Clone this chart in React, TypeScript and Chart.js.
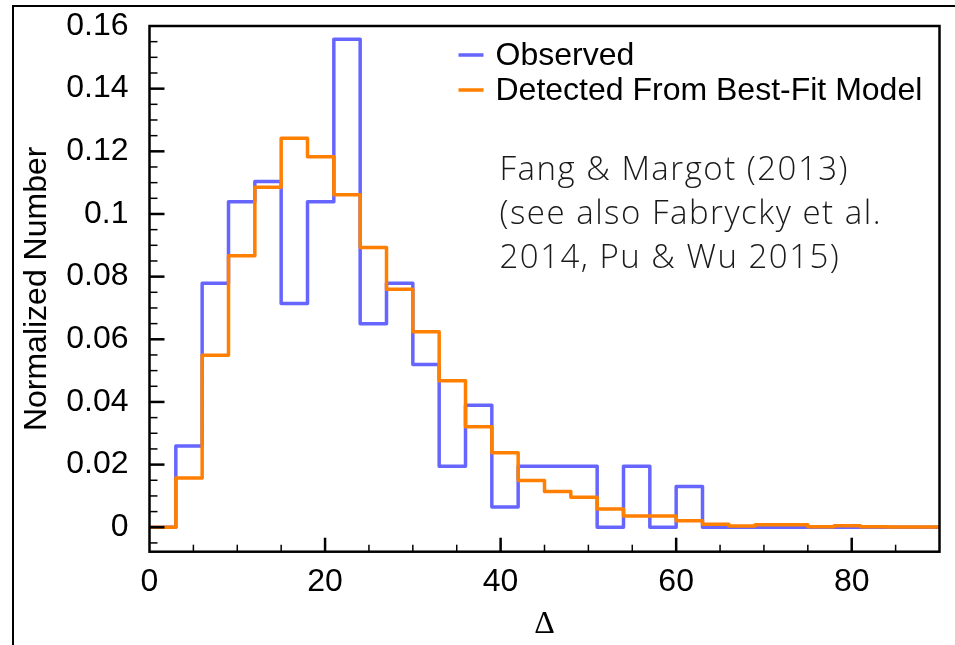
import React, { useEffect, useRef } from "react";
import { Chart, registerables } from "chart.js";

Chart.register(...registerables);

// Δ bin edges (width 3) from 0 to 90
const binEdges = [
  0, 3, 6, 9, 12, 15, 18, 21, 24, 27, 30, 33, 36, 39, 42, 45, 48, 51, 54, 57, 60,
  63, 66, 69, 72, 75, 78, 81, 84, 87, 90,
];

// Normalized counts per bin
const observed = [
  0, 0.02597, 0.07792, 0.1039, 0.1104, 0.07143, 0.1039, 0.1558, 0.06494, 0.07792,
  0.05195, 0.01948, 0.03896, 0.00649, 0.01948, 0.01948, 0.01948, 0, 0.01948, 0,
  0.01299, 0, 0, 0, 0, 0, 0, 0, 0, 0,
];

const detected = [
  0, 0.0157, 0.0549, 0.0867, 0.1085, 0.1242, 0.1183, 0.1061, 0.0893, 0.076,
  0.0624, 0.0468, 0.0321, 0.0238, 0.0149, 0.0114, 0.0096, 0.0058, 0.0036, 0.0036,
  0.0021, 0.001, 0.0004, 0.0008, 0.0008, 0.0002, 0.0005, 0.0002, 0.0001, 0.0001,
];

const seriesLabels = ["Observed", "Detected From Best-Fit Model"];
const seriesColors = ["#6666FF", "#FF7F00"];

const xTickValues = [0, 20, 40, 60, 80];
const yTickValues = [0, 0.02, 0.04, 0.06, 0.08, 0.1, 0.12, 0.14, 0.16];

const noteLines = [
  "Fang & Margot (2013)",
  "(see also Fabrycky et al.",
  "2014, Pu & Wu 2015)",
];

const SANS = "'Liberation Sans', Arial, Helvetica, sans-serif";

// Histogram outline as step points at bin edges (value of each bin starts at its left edge)
function stepPoints(values: number[]) {
  return binEdges.map((x, i) => ({ x, y: values[Math.min(i, values.length - 1)] }));
}

const decorPlugin = {
  id: "decor",
  afterDatasetsDraw(chart: any) {
    const { ctx, chartArea: a, scales } = chart;
    const xs = scales.x;
    const ys = scales.y;
    ctx.save();
    ctx.strokeStyle = "#000";
    ctx.lineCap = "butt";

    // y ticks (major every 0.02, minor every 0.005), pointing inward
    for (let k = -1; k <= 31; k++) {
      const v = k * 0.005;
      const py = ys.getPixelForValue(v);
      if (py > a.bottom - 1 || py < a.top + 1) continue;
      const major = k % 4 === 0;
      ctx.lineWidth = major ? 2.5 : 1.5;
      ctx.beginPath();
      ctx.moveTo(a.left, py);
      ctx.lineTo(a.left + (major ? 15 : 8), py);
      ctx.stroke();
    }
    // x ticks (major every 20, minor every 5)
    for (let k = 1; k <= 17; k++) {
      const v = k * 5;
      const px = xs.getPixelForValue(v);
      const major = v % 20 === 0;
      ctx.lineWidth = major ? 2.5 : 1.5;
      ctx.beginPath();
      ctx.moveTo(px, a.bottom);
      ctx.lineTo(px, a.bottom - (major ? 14 : 7));
      ctx.stroke();
    }

    // plot frame
    ctx.lineWidth = 2.5;
    ctx.strokeRect(a.left, a.top, a.right - a.left, a.bottom - a.top);
    ctx.restore();
  },
  afterDraw(chart: any) {
    const { ctx, chartArea: a, width, height } = chart;
    ctx.save();

    // legend
    const lx = a.left + 309;
    const ly = a.top + 29;
    ctx.font = `32px ${SANS}`;
    ctx.textBaseline = "middle";
    ctx.textAlign = "left";
    seriesLabels.forEach((label, i) => {
      const y = ly + i * 35;
      ctx.strokeStyle = seriesColors[i];
      ctx.lineWidth = 3.5;
      ctx.beginPath();
      ctx.moveTo(lx, y);
      ctx.lineTo(lx + 25, y);
      ctx.stroke();
      ctx.fillStyle = "#000";
      ctx.fillText(label, lx + 37, y + 1);
    });

    // reference note
    ctx.font = `300 33px 'Open Sans', ${SANS}`;
    (ctx as any).letterSpacing = "1.5px";
    ctx.fillStyle = "#1a1a1a";
    ctx.textBaseline = "alphabetic";
    noteLines.forEach((line, i) => {
      ctx.fillText(line, a.left + 350, a.top + 154 + i * 44);
    });
    (ctx as any).letterSpacing = "0px";

    // outer figure frame
    ctx.strokeStyle = "#000";
    ctx.lineWidth = 2;
    ctx.beginPath();
    ctx.moveTo(13, height);
    ctx.lineTo(13, 6);
    ctx.lineTo(width, 6);
    ctx.stroke();
    ctx.restore();
  },
};

export default function App() {
  const canvasRef = useRef<HTMLCanvasElement | null>(null);

  useEffect(() => {
    const canvas = canvasRef.current;
    if (!canvas) return;
    const chart = new Chart(canvas, {
      type: "line",
      data: {
        datasets: [
          {
            label: seriesLabels[0],
            data: stepPoints(observed),
            borderColor: seriesColors[0],
            borderWidth: 3.5,
            stepped: "before",
            pointRadius: 0,
            fill: false,
            order: 2,
            borderJoinStyle: "round",
          },
          {
            label: seriesLabels[1],
            data: stepPoints(detected),
            borderColor: seriesColors[1],
            borderWidth: 3.5,
            stepped: "before",
            pointRadius: 0,
            fill: false,
            order: 1,
            borderJoinStyle: "round",
          },
        ],
      },
      options: {
        responsive: false,
        animation: false,
        devicePixelRatio: 1,
        layout: { padding: { left: 0, right: 15.5, top: 26, bottom: 0 } },
        plugins: {
          legend: { display: false },
          tooltip: { enabled: false },
        },
        scales: {
          x: {
            type: "linear",
            min: 0,
            max: 90,
            grid: { display: false },
            border: { display: false },
            afterBuildTicks: (s: any) => {
              s.ticks = xTickValues.map((v) => ({ value: v }));
            },
            afterFit: (s: any) => {
              s.height = 93.3;
              s.paddingLeft = 0;
              s.paddingRight = 0;
            },
            ticks: {
              color: "#000",
              padding: 3,
              maxRotation: 0,
              font: { family: SANS, size: 32 },
              callback: (v: any) => String(v),
            },
            title: {
              display: true,
              text: "Δ",
              color: "#000",
              font: { family: "'Liberation Serif', 'Times New Roman', serif", size: 32 },
              padding: { top: 0, bottom: 1 },
            },
          },
          y: {
            type: "linear",
            min: -0.0078,
            max: 0.16,
            grid: { display: false },
            border: { display: false },
            afterBuildTicks: (s: any) => {
              s.ticks = yTickValues.map((v) => ({ value: v }));
            },
            afterFit: (s: any) => {
              s.width = 149.5;
              s.paddingTop = 0;
              s.paddingBottom = 0;
            },
            ticks: {
              color: "#000",
              padding: 13,
              font: { family: SANS, size: 32 },
              callback: (v: any) => String(v),
            },
            title: {
              display: true,
              text: "Normalized Number",
              color: "#000",
              font: { family: SANS, size: 32 },
              padding: { top: 18, bottom: 0 },
            },
          },
        },
      },
      plugins: [decorPlugin],
    });
    return () => chart.destroy();
  }, []);

  return (
    <div style={{ position: "absolute", left: 0, top: 0, width: 955, height: 645, background: "#fff" }}>
      <canvas ref={canvasRef} width={955} height={645} style={{ display: "block" }} />
    </div>
  );
}
